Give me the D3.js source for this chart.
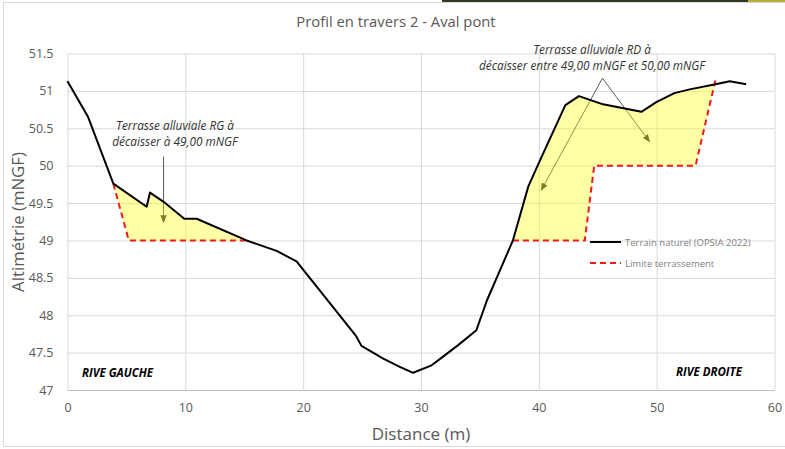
<!DOCTYPE html>
<html>
<head>
<meta charset="utf-8">
<script src="https://cdn.jsdelivr.net/npm/d3@7"></script>
<style>
  body { margin: 0; background: #fff; }
  text { font-family: "Open Sans", sans-serif; }
</style>
</head>
<body>
<div id="chart"></div>
<script>
// profil du terrain naturel (OPSIA 2022)
var terrainX = [0, 1.75, 3.89, 6.72, 7.0, 8.13, 9.91, 10.96, 15.2, 17.75, 19.44, 24.5, 24.95, 26.8, 28.2, 29.33, 30.9, 31.9, 33.15, 34.7, 35.6, 36.7, 37.8, 39.1, 40.1, 42.25, 43.4, 45.45, 48.7, 49.97, 51.5, 52.8, 55.0, 56.2, 57.6];
var terrainY = [51.13, 50.65, 49.76, 49.45, 49.64, 49.52, 49.29, 49.29, 49.0, 48.86, 48.72, 47.72, 47.59, 47.42, 47.31, 47.23, 47.33, 47.45, 47.6, 47.8, 48.2, 48.6, 49.0, 49.72, 50.07, 50.81, 50.93, 50.82, 50.72, 50.85, 50.97, 51.02, 51.09, 51.13, 51.09];

// limite terrassement rive gauche / rive droite
var limiteRGX = [3.89, 5.2, 15.2];
var limiteRGY = [49.76, 49.0, 49.0];
var limiteRDX = [37.8, 43.9, 44.7, 53.3, 55.0];
var limiteRDY = [49.0, 49.0, 50.0, 50.0, 51.15];

var xTicks = [0, 10, 20, 30, 40, 50, 60];
var yTicks = [47, 47.5, 48, 48.5, 49, 49.5, 50, 50.5, 51, 51.5];

var W = 785, H = 449;
var margin = {top: 53.5, right: 10.5, bottom: 59, left: 67.5};
var width = W - margin.left - margin.right,
    height = H - margin.top - margin.bottom;

var svg = d3.select('#chart').append('svg')
    .attr('width', W).attr('height', H);

// cadre du graphique
svg.append('rect')
    .attr('x', 3.5).attr('y', 2.5)
    .attr('width', W).attr('height', 444)
    .attr('fill', 'none').attr('stroke', '#d9d9d9');
svg.append('rect')
    .attr('x', 442).attr('y', 0).attr('width', 343).attr('height', 2)
    .attr('fill', '#2f3a22');
svg.append('rect')
    .attr('x', 748).attr('y', 0).attr('width', 37).attr('height', 2)
    .attr('fill', '#b8b030');

var g = svg.append('g')
    .attr('transform', 'translate(' + margin.left + ',' + margin.top + ')');

var x = d3.scaleLinear().domain([0, 60]).range([0, width]);
var y = d3.scaleLinear().domain([47, 51.5]).range([height, 0]);

// grille
g.append('g')
    .attr('transform', 'translate(0,' + height + ')')
    .call(d3.axisBottom(x).tickValues(xTicks).tickSize(-height).tickFormat(''))
    .call(function (a) { a.select('.domain').remove(); })
    .selectAll('line').attr('stroke', '#d9d9d9');
g.append('g')
    .call(d3.axisLeft(y).tickValues(yTicks).tickSize(-width).tickFormat(''))
    .call(function (a) { a.select('.domain').remove(); })
    .selectAll('line').attr('stroke', '#d9d9d9');

// libellés des axes
g.append('g')
    .attr('transform', 'translate(0,' + height + ')')
    .call(d3.axisBottom(x).tickValues(xTicks).tickSize(0).tickPadding(13))
    .call(function (a) { a.select('.domain').attr('stroke', '#bfbfbf'); })
    .selectAll('text')
    .attr('fill', '#595959').style('font-size', '12.5px').style('font-family', '"Open Sans", sans-serif');
g.append('g')
    .call(d3.axisLeft(y).tickValues(yTicks).tickSize(0).tickPadding(14).tickFormat(d3.format('')))
    .call(function (a) { a.select('.domain').remove(); })
    .selectAll('text')
    .attr('fill', '#595959').style('font-size', '12.5px').style('font-family', '"Open Sans", sans-serif');

// flèches d'annotation (sous le remplissage)
var defs = svg.append('defs');
defs.append('marker')
    .attr('id', 'arrow').attr('viewBox', '0 0 10 10')
    .attr('refX', 9).attr('refY', 5)
    .attr('markerWidth', 8).attr('markerHeight', 8)
    .attr('orient', 'auto')
    .append('path').attr('d', 'M0,1L10,5L0,9Z').attr('fill', '#3a3a3a');

var arrows = [
    [8.15, 50.12, 8.15, 49.24],
    [45.4, 51.17, 40.2, 49.67],
    [45.4, 51.17, 49.4, 50.32]
];
g.selectAll('.arrow').data(arrows).enter().append('line')
    .attr('x1', function (d) { return x(d[0]); })
    .attr('y1', function (d) { return y(d[1]); })
    .attr('x2', function (d) { return x(d[2]); })
    .attr('y2', function (d) { return y(d[3]); })
    .attr('stroke', '#595959').attr('stroke-width', 1)
    .attr('marker-end', 'url(#arrow)');

// zones à décaisser
function zone(limX, limY) {
    var a = limX[0], b = limX[limX.length - 1];
    var pts = [];
    terrainX.forEach(function (v, i) {
        if (v >= a && v <= b) pts.push([v, terrainY[i]]);
    });
    for (var i = limX.length - 1; i >= 0; i--) pts.push([limX[i], limY[i]]);
    return pts;
}
var area = d3.line().x(function (d) { return x(d[0]); }).y(function (d) { return y(d[1]); });
[zone(limiteRGX, limiteRGY), zone(limiteRDX, limiteRDY)].forEach(function (p) {
    g.append('path').attr('d', area(p) + 'Z')
        .attr('fill', '#ffff00').attr('fill-opacity', 0.35).attr('stroke', 'none');
});

// limite terrassement
[[limiteRGX, limiteRGY], [limiteRDX, limiteRDY]].forEach(function (l) {
    g.append('path')
        .attr('d', area(l[0].map(function (v, i) { return [v, l[1][i]]; })))
        .attr('fill', 'none').attr('stroke', '#ee1c1c')
        .attr('stroke-width', 2).attr('stroke-dasharray', '6,4');
});

// terrain naturel
g.append('path')
    .attr('d', area(terrainX.map(function (v, i) { return [v, terrainY[i]]; })))
    .attr('fill', 'none').attr('stroke', '#000').attr('stroke-width', 2)
    .attr('stroke-linejoin', 'round');

// légende
var leg = svg.append('g').attr('transform', 'translate(590,242)');
leg.append('line').attr('x1', 0).attr('x2', 31).attr('y1', 0).attr('y2', 0)
    .attr('stroke', '#000').attr('stroke-width', 2);
leg.append('text').attr('x', 35).attr('y', 3.5).text('Terrain naturel (OPSIA 2022)')
    .attr('fill', '#7f7f7f').style('font-size', '9.5px');
leg.append('line').attr('x1', 0).attr('x2', 31).attr('y1', 21).attr('y2', 21)
    .attr('stroke', '#ee1c1c').attr('stroke-width', 2).attr('stroke-dasharray', '6,4');
leg.append('text').attr('x', 35).attr('y', 24.5).text('Limite terrassement')
    .attr('fill', '#7f7f7f').style('font-size', '9.5px');

// textes
svg.append('text').attr('x', 396).attr('y', 27).attr('text-anchor', 'middle')
    .text('Profil en travers 2 - Aval pont')
    .attr('fill', '#595959').style('font-size', '14.8px');
svg.append('text').attr('x', 421).attr('y', 440).attr('text-anchor', 'middle')
    .text('Distance (m)')
    .attr('fill', '#595959').style('font-size', '17px');
svg.append('text').attr('transform', 'translate(24,222) rotate(-90)').attr('text-anchor', 'middle')
    .text('Altimétrie (mNGF)')
    .attr('fill', '#595959').style('font-size', '16.8px');

function note(cx, cy, lines) {
    var t = svg.append('text').attr('text-anchor', 'middle')
        .attr('fill', '#333').style('font-size', '11.8px').style('font-style', 'italic');
    lines.forEach(function (s, i) {
        t.append('tspan').attr('x', cx).attr('y', cy + i * 16).text(s);
    });
}
note(175, 130, ['Terrasse alluviale RG à', 'décaisser à 49,00 mNGF']);
note(592, 54, ['Terrasse alluviale RD à', 'décaisser entre 49,00 mNGF et 50,00 mNGF']);

svg.append('text').attr('x', 82).attr('y', 377).text('RIVE GAUCHE')
    .attr('fill', '#000').style('font-size', '11.5px').style('font-weight', 'bold').style('font-style', 'italic');
svg.append('text').attr('x', 676).attr('y', 376).text('RIVE DROITE')
    .attr('fill', '#000').style('font-size', '11.5px').style('font-weight', 'bold').style('font-style', 'italic');
</script>
</body>
</html>
